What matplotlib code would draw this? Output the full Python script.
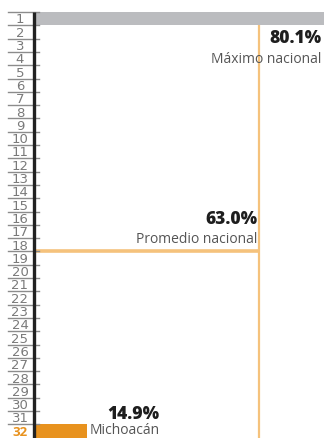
import matplotlib
matplotlib.use("Agg")
import matplotlib.pyplot as plt
import matplotlib.transforms as mtransforms

# Data
ranks = list(range(1, 33))
rank_labels = [str(r) for r in ranks]
bar_ranks = [1, 32]
bar_values = [80.1, 14.9]
bar_labels = ["Máximo nacional", "Michoacán"]
promedio = 63.0
promedio_rank = 18.5
promedio_label = "Promedio nacional"

GRAY = "#BBBCBF"
ORANGE = "#E8921E"
LINE_OR = "#F5C27C"
TXT = "#555555"
NUM = "#1E1E1E"

W, H = 324, 439
fig = plt.figure(figsize=(W / 100, H / 100), dpi=100)
x0 = 34
ax = fig.add_axes([x0 / W, 0, (W - x0) / W, 1])
row_h = 13.3
top_px = 13
ytop = 0.5 - top_px / row_h
ybot = 0.5 + (H - top_px) / row_h
ax.set_ylim(ybot, ytop)
ax.set_xlim(0, 81.2)
ax.axis("off")

# bars
ax.barh(bar_ranks[0], bar_values[0] + 2, height=1.0, color=GRAY, left=0, zorder=2)
ax.barh(bar_ranks[1], bar_values[1], height=1.0, color=ORANGE, left=0, zorder=2)

# promedio lines
ax.plot([promedio, promedio], [1.5, ybot], color=LINE_OR, lw=1.6, zorder=1, solid_capstyle="butt")
ax.plot([0, promedio], [promedio_rank, promedio_rank], color=LINE_OR, lw=2.6, zorder=1, solid_capstyle="butt")

# axis line
ax.plot([0, 0], [0.5, ybot], color="#222222", lw=2.4, zorder=3, clip_on=False, solid_capstyle="butt")

# rank labels and separators
blend = mtransforms.blended_transform_factory(ax.transAxes, ax.transData)
xl = (8 - x0) / (W - x0)
xr = (39 - x0) / (W - x0)
xc = (20 - x0) / (W - x0)
for r, lab in zip(ranks, rank_labels):
    ax.plot([xl, xr], [r - 0.5, r - 0.5], transform=blend, color="#8C8C8C", lw=1.0, clip_on=False, zorder=2)
    if r == 32:
        ax.text(xc, r + 0.02, lab, transform=blend, ha="center", va="center", fontsize=9.5,
                color=ORANGE, fontweight="bold", family="Open Sans")
    else:
        ax.text(xc, r + 0.02, lab, transform=blend, ha="center", va="center", fontsize=9.5,
                color="#7A7A7A", family="Liberation Sans Narrow")

def px2x(px):
    return (px - x0) / (W - x0) * 81.2

# annotations
ax.text(px2x(321), 2.45, f"{bar_values[0]:.1f}%", ha="right", va="center", fontsize=12.5,
        fontweight="heavy", color=NUM, family="Open Sans")
ax.text(px2x(321), 4.0, bar_labels[0], ha="right", va="center", fontsize=10,
        color=TXT, family="Open Sans")
ax.text(px2x(257), 16.0, f"{promedio:.1f}%", ha="right", va="center", fontsize=12.5,
        fontweight="heavy", color=NUM, family="Open Sans")
ax.text(px2x(257), 17.55, promedio_label, ha="right", va="center", fontsize=10,
        color=TXT, family="Open Sans")
ax.text(px2x(159), 30.7, f"{bar_values[1]:.1f}%", ha="right", va="center", fontsize=12.5,
        fontweight="heavy", color=NUM, family="Open Sans")
ax.text(px2x(90), ybot - 0.05, bar_labels[1], ha="left", va="bottom", fontsize=10,
        color=TXT, family="Open Sans")

fig.savefig("out.png", dpi=100)
